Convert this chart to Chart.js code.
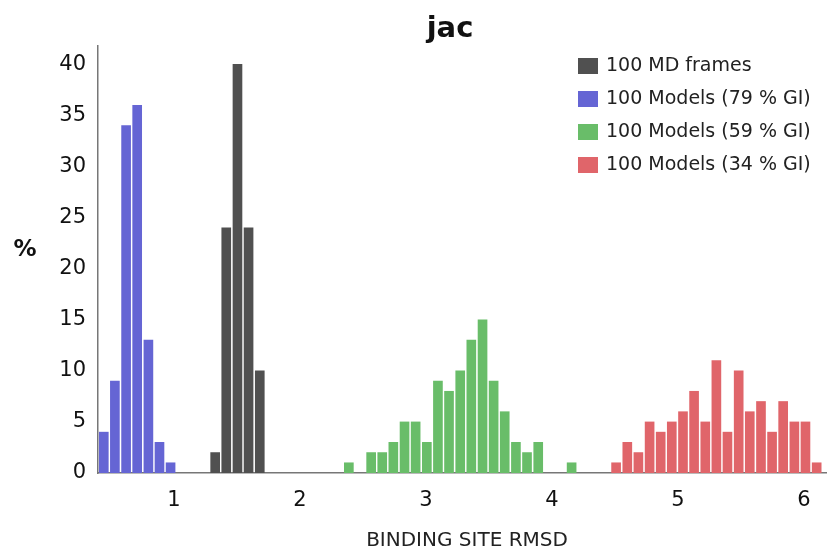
<!DOCTYPE html>
<html>
<head>
<meta charset="utf-8">
<script src="https://cdn.jsdelivr.net/npm/chart.js@4.4.1/dist/chart.umd.min.js"></script>
<style>
  html, body { margin: 0; padding: 0; background: #fff; }
  #wrap { width: 829px; height: 552px; }
</style>
</head>
<body>
<div id="wrap"><canvas id="histChart" width="829" height="552"></canvas></div>
<script>
// bin centres (RMSD) and % per bin
const mdX = [1.327, 1.415, 1.504, 1.592, 1.681];
const mdY = [2, 24, 40, 24, 10];

const gi79X = [0.443, 0.531, 0.620, 0.708, 0.797, 0.885, 0.973];
const gi79Y = [4, 9, 34, 36, 13, 3, 1];

const gi59X = [2.388, 2.565, 2.653, 2.741, 2.830, 2.918, 3.007, 3.095, 3.183,
               3.272, 3.360, 3.449, 3.537, 3.625, 3.714, 3.802, 3.891, 4.156];
const gi59Y = [1, 2, 2, 3, 5, 5, 3, 9, 8, 10, 13, 15, 9, 6, 3, 2, 3, 1];

const gi34X = [4.509, 4.598, 4.686, 4.775, 4.863, 4.951, 5.040, 5.128, 5.217, 5.305,
               5.393, 5.482, 5.570, 5.659, 5.747, 5.835, 5.924, 6.012, 6.101];
const gi34Y = [1, 3, 2, 5, 4, 5, 6, 8, 5, 11, 4, 10, 6, 7, 4, 7, 5, 5, 1];

const seriesLabels = ['100 MD frames', '100 Models (79 % GI)', '100 Models (59 % GI)', '100 Models (34 % GI)'];
const xTicks = [1, 2, 3, 4, 5, 6];
const yTicks = [0, 5, 10, 15, 20, 25, 30, 35, 40];

const colors = ['#505050', '#6565d4', '#69bd69', '#e0656a'];
const FONT = '"DejaVu Sans", sans-serif';

const toPoints = (xs, ys) => xs.map((x, i) => ({ x: x, y: ys[i] }));

// title, axis captions and the boxed legend
const textPlugin = {
    id: 'textPlugin',
    afterDraw(chart) {
        const ctx = chart.ctx;
        ctx.save();
        ctx.fillStyle = '#111';
        ctx.textAlign = 'center';
        ctx.textBaseline = 'middle';

        ctx.font = 'bold 29px ' + FONT;
        ctx.fillText('jac', 450, 29);

        ctx.font = 'bold 23px ' + FONT;
        ctx.fillText('%', 25, 250);

        ctx.font = '20px ' + FONT;
        ctx.fillStyle = '#222';
        ctx.fillText('BINDING SITE RMSD', 467, 541);

        // legend
        ctx.textAlign = 'left';
        ctx.font = '19px ' + FONT;
        chart.data.datasets.forEach((ds, i) => {
            const cy = 66 + i * 33;
            ctx.fillStyle = ds.backgroundColor;
            ctx.fillRect(578, cy - 8, 20, 16);
            ctx.fillStyle = '#222';
            ctx.fillText(ds.label, 606, cy);
        });
        ctx.restore();
    }
};

const datasets = [
    { label: seriesLabels[0], data: toPoints(mdX, mdY), backgroundColor: colors[0] },
    { label: seriesLabels[1], data: toPoints(gi79X, gi79Y), backgroundColor: colors[1] },
    { label: seriesLabels[2], data: toPoints(gi59X, gi59Y), backgroundColor: colors[2] },
    { label: seriesLabels[3], data: toPoints(gi34X, gi34Y), backgroundColor: colors[3] }
].map(ds => Object.assign(ds, { grouped: false, barThickness: 9, borderWidth: 0 }));

new Chart(document.getElementById('histChart'), {
    type: 'bar',
    data: { datasets: datasets },
    options: {
        responsive: false,
        animation: false,
        layout: { padding: { top: 46, right: 3, left: 0, bottom: 0 } },
        plugins: {
            legend: { display: false },
            tooltip: { enabled: false }
        },
        scales: {
            x: {
                type: 'linear',
                min: 0.397,
                max: 6.175,
                offset: false,
                grid: { display: false, drawTicks: false },
                border: { display: true, color: '#777', width: 1.5 },
                afterBuildTicks: s => { s.ticks = xTicks.map(v => ({ value: v })); },
                afterFit: s => { s.height = 79; },
                ticks: { color: '#111', font: { family: FONT, size: 21 }, padding: 15, maxRotation: 0, autoSkip: false }
            },
            y: {
                min: 0,
                max: 41.8,
                grid: { display: false, drawTicks: false },
                border: { display: true, color: '#777', width: 1.5 },
                afterBuildTicks: s => { s.ticks = yTicks.map(v => ({ value: v })); },
                afterFit: s => { s.width = 98; },
                ticks: { color: '#111', font: { family: FONT, size: 21 }, padding: 12 }
            }
        }
    },
    plugins: [textPlugin]
});
</script>
</body>
</html>
